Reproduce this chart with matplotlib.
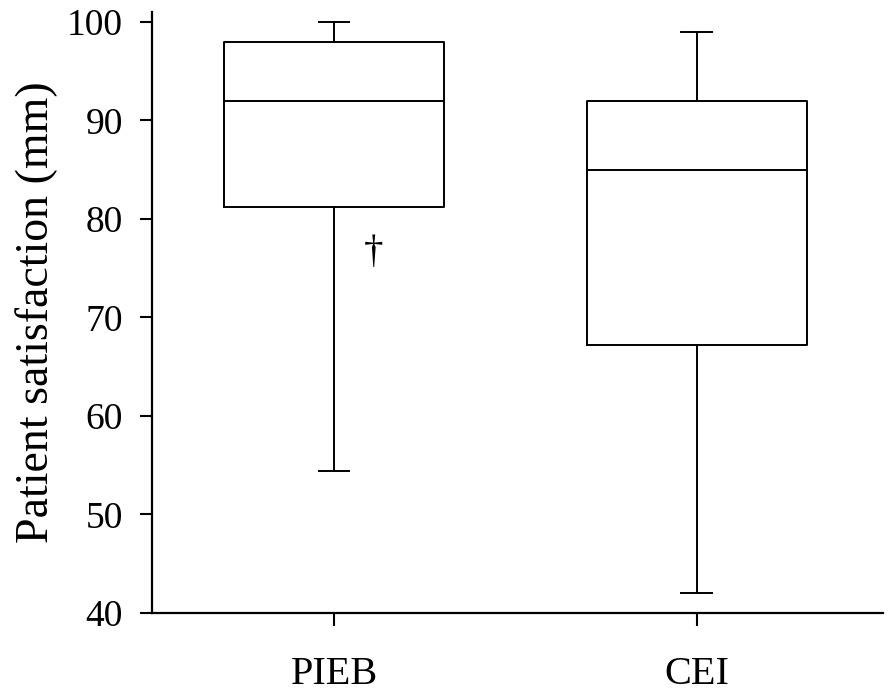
import matplotlib
matplotlib.use("Agg")
import matplotlib.pyplot as plt

plt.rcParams['font.family'] = ['Liberation Serif', 'DejaVu Serif']

# box statistics
groups = ['PIEB', 'CEI']
whisker_low = [54.4, 42.0]
q1 = [81.2, 67.2]
median = [92.0, 85.0]
q3 = [98.0, 92.0]
whisker_high = [100.0, 99.0]

stats = []
for i, g in enumerate(groups):
    stats.append(dict(label=g, whislo=whisker_low[i], q1=q1[i], med=median[i],
                      q3=q3[i], whishi=whisker_high[i], fliers=[]))

fig = plt.figure(figsize=(8.88, 6.93), dpi=100)
ax = fig.add_axes([0.171, 0.1154, 0.823, 0.8673])

line = dict(color='black', linewidth=1.4)
ax.bxp(stats, positions=[1, 2], widths=0.606, capwidths=[0.085, 0.085],
       showfliers=False, boxprops=line, whiskerprops=line, capprops=line,
       medianprops=line)

# dagger next to the PIEB box
ax.text(1.11, 76.6, '\u2020', fontsize=28, ha='center', va='center')

ax.set_xlim(0.498, 2.512)
ax.set_ylim(40, 101)
ax.set_yticks([40, 50, 60, 70, 80, 90, 100])
ax.set_xticks([1, 2])
ax.set_xticklabels(groups, fontsize=29)
ax.tick_params(axis='y', labelsize=27, direction='out', length=9, width=1.5, pad=12)
ax.tick_params(axis='x', direction='out', length=9, width=1.5, pad=22)
ax.set_ylabel('Patient satisfaction (mm)', fontsize=33, labelpad=6)

for s in ['top', 'right']:
    ax.spines[s].set_visible(False)
for s in ['left', 'bottom']:
    ax.spines[s].set_linewidth(1.6)

fig.savefig('out.png', dpi=100)
